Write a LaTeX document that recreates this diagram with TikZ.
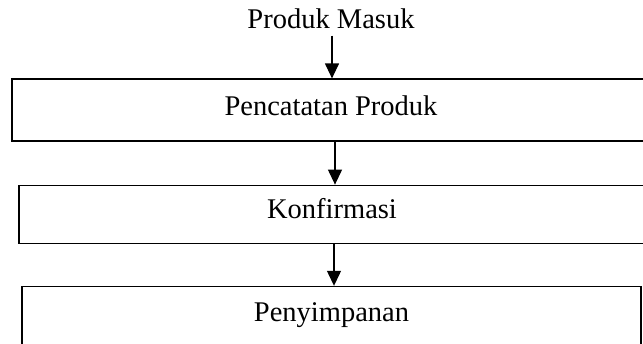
\documentclass[tikz,border=0pt]{standalone}
\usepackage{fontspec}
\setmainfont{Liberation Serif}
\usetikzlibrary{positioning,arrows.meta}

\begin{document}
\begin{tikzpicture}[x=0.5pt,y=-0.5pt,
   txt/.style={font=\fontsize{14.25pt}{17pt}\selectfont},
   box/.style={txt,draw,line width=0.6pt,inner sep=0pt,text height=10pt,text depth=#1},
   box/.default=5pt,
   arr/.style={line width=0.6pt,-{Triangle[width=7pt,length=7.5pt]}},
   node distance=21.5pt]
 \useasboundingbox (0,0) rectangle (643,343);
 \clip (0,0) rectangle (643,343);
 \node[txt,anchor=base,inner sep=3.5pt] (title) at (331,28) {Produk Masuk};
 \node[box,minimum width=319pt,minimum height=31pt] (b1) at (331,110) {Pencatatan Produk};
 \node[box=6pt,minimum width=313pt,minimum height=29pt,below=of b1,xshift=0.5pt] (b2) {Konfirmasi};
 \node[box=7pt,minimum width=309.5pt,minimum height=32pt,below=21pt of b2,xshift=-0.25pt] (b3) {Penyimpanan};
 \draw[arr] ([xshift=0.5pt]title.south -| b1.north) -- ([xshift=0.5pt]b1.north);
 \draw[arr] ([xshift=1.5pt]b1.south -| b2.north) -- ([xshift=1.5pt]b2.north);
 \draw[arr] ([xshift=1.25pt]b2.south -| b3.north) -- ([xshift=1.25pt]b3.north);
\end{tikzpicture}
\end{document}
